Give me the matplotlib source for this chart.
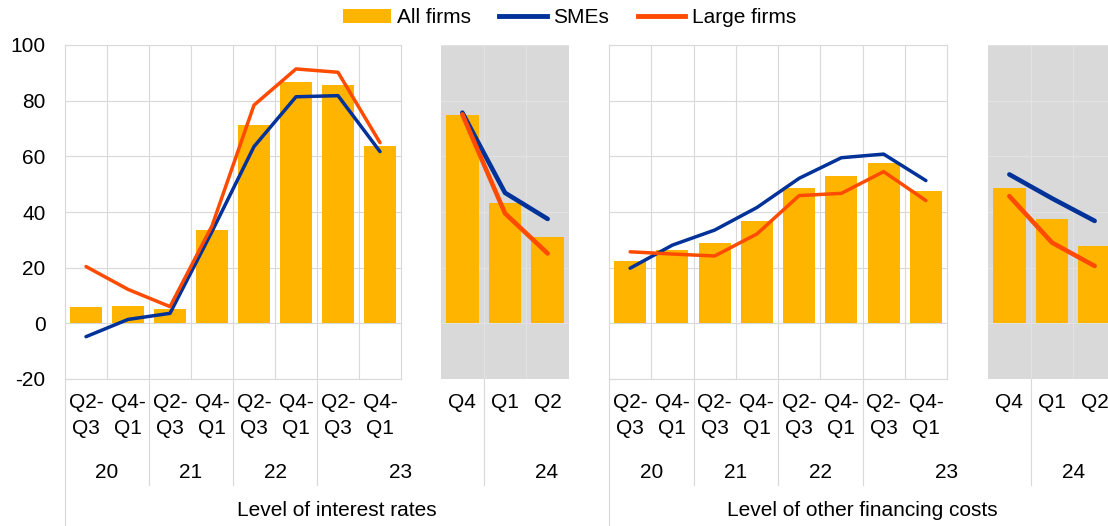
"""Firms reporting higher interest rates and other financing costs (net percentages)."""

from __future__ import annotations

import matplotlib

matplotlib.use("Agg")
import matplotlib.pyplot as plt
from matplotlib.lines import Line2D
from matplotlib.patches import Patch

# category labels: eight half-year periods, then three recent quarters
PERIOD_TOP = ["Q2-", "Q4-", "Q2-", "Q4-", "Q2-", "Q4-", "Q2-", "Q4-"]
PERIOD_BOTTOM = ["Q3", "Q1", "Q3", "Q1", "Q3", "Q1", "Q3", "Q1"]
RECENT_LABELS = ["Q4", "Q1", "Q2"]
YEARS = ["20", "21", "22", "23", "24"]
PANEL_TITLES = ["Level of interest rates", "Level of other financing costs"]
SERIES_NAMES = ["All firms", "SMEs", "Large firms"]
Y_TICKS = [-20, 0, 20, 40, 60, 80, 100]

# level of interest rates
RATES_ALL = [6.0, 6.2, 5.0, 33.5, 71.3, 86.6, 85.6, 63.7]
RATES_ALL_RECENT = [74.7, 43.2, 30.9]
RATES_SME = [-4.8, 1.4, 3.6, 33.0, 63.5, 81.4, 81.8, 61.7]
RATES_SME_RECENT = [75.7, 46.9, 37.5]
RATES_LARGE = [20.4, 12.2, 6.0, 35.0, 78.4, 91.4, 90.2, 64.9]
RATES_LARGE_RECENT = [75.1, 39.5, 25.1]

# level of other financing costs
OTHER_ALL = [22.4, 26.3, 28.7, 36.9, 48.7, 53.1, 57.7, 47.5]
OTHER_ALL_RECENT = [48.7, 37.4, 27.9]
OTHER_SME = [19.8, 28.1, 33.5, 41.6, 52.1, 59.5, 60.8, 51.3]
OTHER_SME_RECENT = [53.5, 44.9, 36.8]
OTHER_LARGE = [25.7, 24.9, 24.2, 32.1, 45.9, 46.7, 54.5, 44.1]
OTHER_LARGE_RECENT = [45.7, 29.0, 20.6]

YELLOW = "#FFB400"
BLUE = "#003299"
ORANGE = "#FF4B00"
GRID = "#d9d9d9"
SHADE = "#d9d9d9"
FONT_SIZE = 15

FIG_W, FIG_H = 1108, 526
AX_TOP, AX_BOTTOM = 45, 379  # pixel rows of y=100 and y=-20


def _rect(left: float, width: float) -> list[float]:
    return [left / FIG_W, 1 - AX_BOTTOM / FIG_H, width / FIG_W, (AX_BOTTOM - AX_TOP) / FIG_H]


def _fig_x(fig, ax, x: float) -> float:
    """Data x of an axes -> figure fraction."""
    disp = ax.transData.transform((x, 0))
    return fig.transFigure.inverted().transform(disp)[0]


def _vline(fig, x: float, y_px: float) -> None:
    fig.add_artist(
        Line2D([x, x], [1 - AX_BOTTOM / FIG_H, 1 - y_px / FIG_H],
               transform=fig.transFigure, color=GRID, lw=0.8)
    )


def _label(fig, x: float, y_px: float, text: str) -> None:
    fig.text(x, 1 - y_px / FIG_H, text, ha="center", va="center", fontsize=FONT_SIZE)


def _draw_panel(ax, bars, sme, large, *, shaded: bool) -> None:
    n = len(bars)
    xs = list(range(n))
    ax.set_xlim(-0.5, n - 0.5)
    ax.set_ylim(-20, 100)
    ax.set_yticks(Y_TICKS)
    ax.set_xticks([x + 0.5 for x in xs[:-1]], minor=True)
    ax.set_xticks([])
    grid_color = "#e2e2e2" if shaded else GRID
    ax.grid(True, axis="y", color=grid_color, lw=0.8, zorder=0)
    ax.grid(True, axis="x", which="minor", color=grid_color, lw=0.8, zorder=0)
    ax.tick_params(which="both", length=0)
    ax.set_axisbelow(True)
    ax.bar(xs, bars, width=0.76, color=YELLOW, zorder=2)
    lw = 3.3 if shaded else 2.5
    ax.plot(xs, sme, color=BLUE, lw=lw, zorder=3, solid_capstyle="round")
    ax.plot(xs, large, color=ORANGE, lw=lw, zorder=4, solid_capstyle="round")
    if shaded:
        ax.set_facecolor(SHADE)
        for spine in ax.spines.values():
            spine.set_visible(False)
    else:
        for spine in ax.spines.values():
            spine.set_color(GRID)
            spine.set_linewidth(0.8)


def main() -> None:
    plt.rcParams["font.family"] = ["Liberation Sans", "DejaVu Sans"]
    fig = plt.figure(figsize=(FIG_W / 100, FIG_H / 100), dpi=100)

    ax_rates = fig.add_axes(_rect(65, 336))
    ax_rates_recent = fig.add_axes(_rect(441, 128))
    ax_other = fig.add_axes(_rect(609, 338))
    ax_other_recent = fig.add_axes(_rect(988, 128))

    _draw_panel(ax_rates, RATES_ALL, RATES_SME, RATES_LARGE, shaded=False)
    _draw_panel(ax_rates_recent, RATES_ALL_RECENT, RATES_SME_RECENT, RATES_LARGE_RECENT, shaded=True)
    _draw_panel(ax_other, OTHER_ALL, OTHER_SME, OTHER_LARGE, shaded=False)
    _draw_panel(ax_other_recent, OTHER_ALL_RECENT, OTHER_SME_RECENT, OTHER_LARGE_RECENT, shaded=True)

    ax_rates.set_yticklabels([str(v) for v in Y_TICKS], fontsize=FONT_SIZE)
    ax_rates.tick_params(axis="y", pad=14)
    for ax in (ax_rates_recent, ax_other, ax_other_recent):
        ax.set_yticklabels([])

    panels = [(ax_rates, ax_rates_recent, ax_other), (ax_other, ax_other_recent, None)]
    for title, (main_ax, recent_ax, next_ax) in zip(PANEL_TITLES, panels):
        # period labels under each category
        for i, (top, bottom) in enumerate(zip(PERIOD_TOP, PERIOD_BOTTOM)):
            x = _fig_x(fig, main_ax, i)
            _label(fig, x, 403, top)
            _label(fig, x, 428, bottom)
        for i, text in enumerate(RECENT_LABELS):
            _label(fig, _fig_x(fig, recent_ax, i), 403, text)

        # year groups and their separators
        bounds = [_fig_x(fig, main_ax, b) for b in (-0.5, 1.5, 3.5, 5.5)]
        bounds.append(_fig_x(fig, recent_ax, 0.5))
        if next_ax is not None:
            bounds.append(next_ax.get_position().x0)
        else:
            bounds.append(recent_ax.get_position().x1)
        for year, lo, hi in zip(YEARS, bounds[:-1], bounds[1:]):
            _label(fig, (lo + hi) / 2, 472, year)
        for x in bounds[1:-1]:
            _vline(fig, x, 485)
        _vline(fig, bounds[0], FIG_H)

        left = main_ax.get_position().x0
        right = bounds[-1] if next_ax is not None else recent_ax.get_position().x1
        _label(fig, (left + right) / 2, 511, title)

    handles = [
        Patch(facecolor=YELLOW, edgecolor="none"),
        Line2D([], [], color=BLUE, lw=3.5),
        Line2D([], [], color=ORANGE, lw=3.5),
    ]
    fig.legend(
        handles,
        SERIES_NAMES,
        loc="center",
        bbox_to_anchor=(0.514, 0.966),
        ncol=3,
        frameon=False,
        fontsize=FONT_SIZE,
        handlelength=2.3,
        handletextpad=0.3,
        columnspacing=1.35,
    )

    fig.savefig("out.png", dpi=100)
    plt.close(fig)


if __name__ == "__main__":
    main()
